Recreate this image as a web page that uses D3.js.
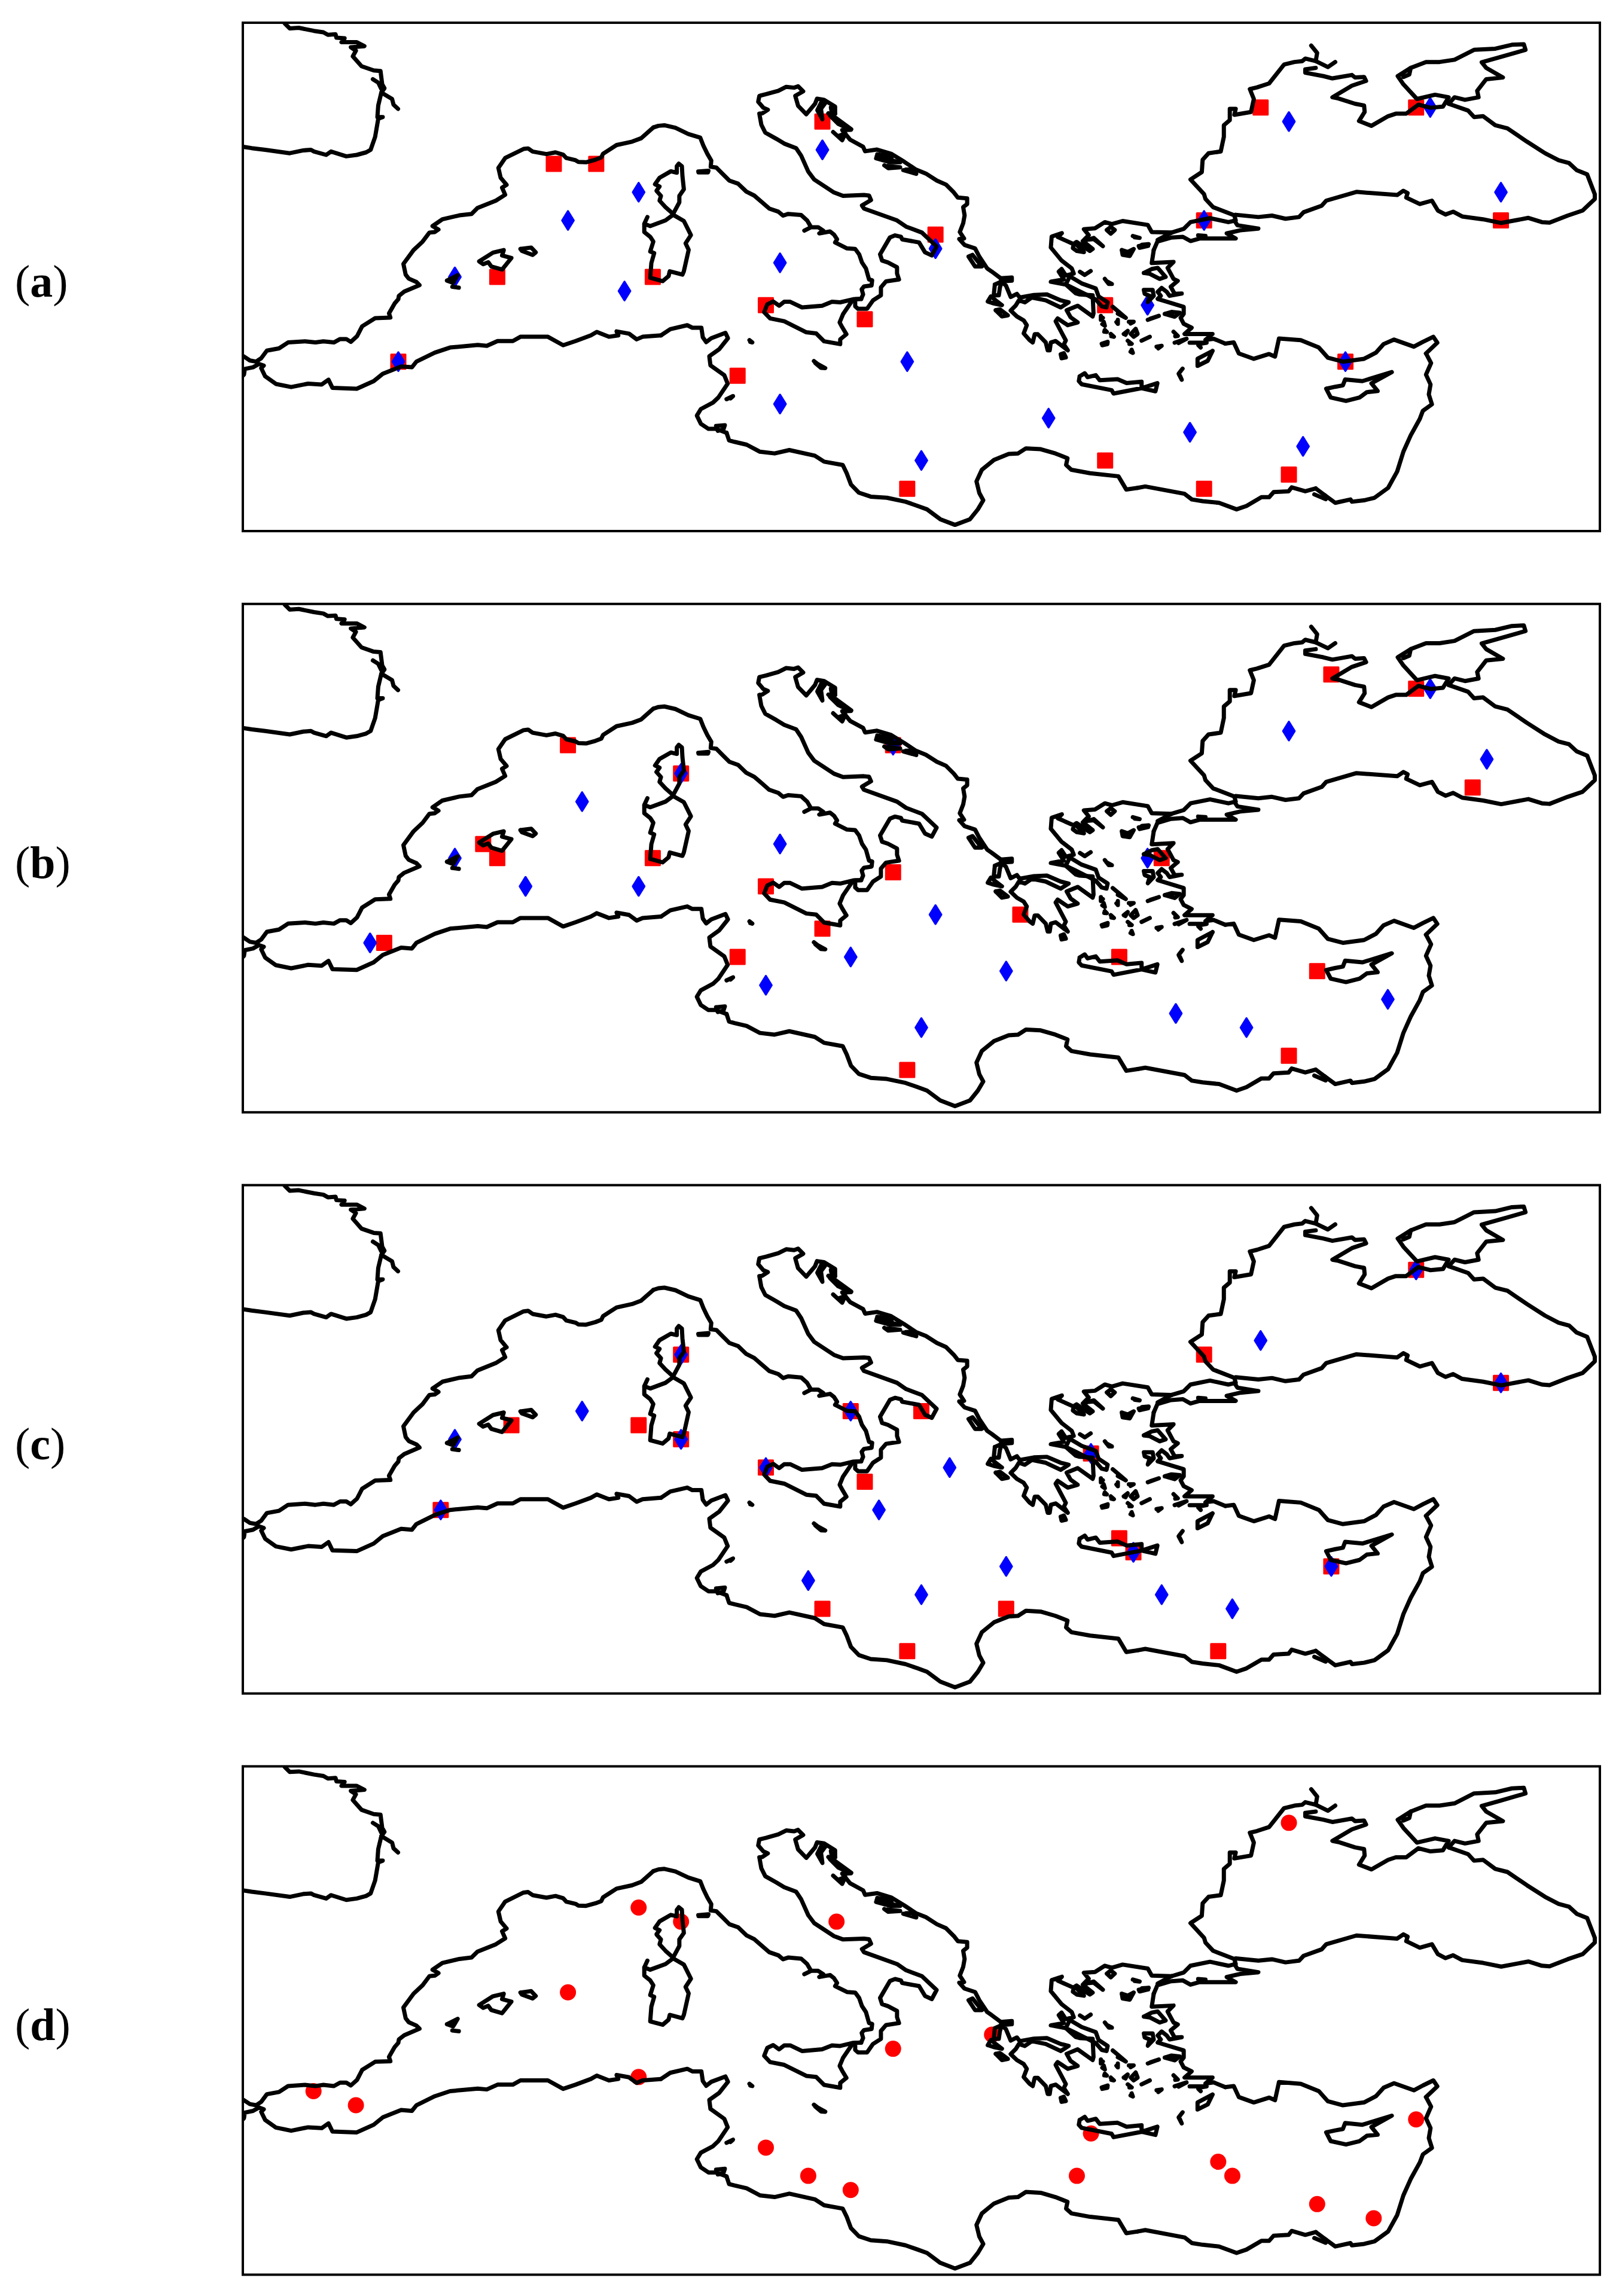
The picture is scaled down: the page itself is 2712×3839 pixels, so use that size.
<!DOCTYPE html>
<html>
<head>
<meta charset="utf-8">
<script src="https://cdn.jsdelivr.net/npm/d3@7"></script>
<style>
  html, body { margin: 0; background: #fff; }
  svg { display: block; }
  text { font-family: "Liberation Serif", serif; font-size: 76px; fill: #000; }
</style>
</head>
<body>
<svg id="chart"></svg>
<script>
// coast lines, [lon, lat]
var biscayNorth = [[-4.6,48.1],[-4.51,47.97],[-4.34,47.80],[-4.02,47.82],[-3.48,47.71],[-3.15,47.66],[-2.99,47.57],[-2.72,47.59],[-2.69,47.47],[-2.40,47.45],[-2.51,47.31],[-1.97,47.31],[-1.70,47.17],[-2.18,47.13],[-2.00,47.01],[-2.11,46.81],[-1.80,46.46],[-1.37,46.31],[-1.13,46.29],[-1.07,45.82],[-0.99,45.68],[-1.10,45.53],[-0.72,45.30],[-0.67,45.10],[-0.51,44.95]];
var girondeSpur = [[-1.40,46.00],[-1.21,45.88],[-1.10,45.65]];
var biscaySouth = [[-1.10,45.53],[-1.21,45.07],[-1.24,44.66],[-1.05,44.66],[-1.21,44.60],[-1.32,43.96],[-1.48,43.50],[-1.64,43.41],[-1.97,43.32],[-2.34,43.27],[-2.88,43.44],[-3.05,43.32],[-3.48,43.44],[-3.59,43.50],[-3.86,43.48],[-4.34,43.38],[-5.21,43.50],[-5.69,43.56],[-6.2,43.64]];
var spainFrance = [[-6.2,36.3],[-5.96,36.18],[-5.75,36.04],[-5.53,36.00],[-5.35,36.12],[-5.15,36.39],[-4.72,36.47],[-4.40,36.68],[-3.80,36.72],[-3.43,36.68],[-3.15,36.72],[-2.78,36.68],[-2.56,36.80],[-2.34,36.80],[-2.18,36.70],[-1.96,36.90],[-1.78,37.25],[-1.32,37.54],[-0.78,37.56],[-0.83,37.71],[-0.63,38.06],[-0.50,38.21],[-0.48,38.33],[-0.29,38.48],[0.25,38.71],[0.14,38.82],[-0.13,38.94],[-0.24,39.08],[-0.32,39.46],[0.04,39.95],[0.36,40.25],[0.60,40.57],[0.79,40.59],[0.92,40.68],[0.71,40.80],[1.06,41.04],[1.66,41.18],[2.09,41.23],[2.30,41.44],[2.95,41.70],[3.28,41.91],[3.17,42.16],[3.33,42.26],[3.12,42.51],[3.04,42.86],[3.28,43.21],[3.93,43.53],[4.09,43.55],[4.25,43.44],[4.74,43.35],[5.06,43.41],[5.33,43.33],[5.44,43.21],[5.77,43.13],[5.87,43.07],[6.14,43.06],[6.47,43.15],[6.68,43.23],[6.74,43.36],[7.22,43.67],[7.77,43.79],[8.09,43.91],[8.52,44.29]];
var italyWest = [[8.52,44.29],[8.70,44.35],[8.91,44.37],[9.30,44.28],[9.76,44.06],[10.18,43.93],[10.29,43.65],[10.43,43.36],[10.57,43.12],[10.55,42.90],[10.75,42.87],[10.96,42.66],[11.21,42.41],[11.52,42.30],[11.81,42.02],[12.09,41.88],[12.62,41.42],[12.94,41.31],[13.11,41.17],[13.29,41.23],[13.75,41.19],[13.96,41.00],[14.10,40.76],[13.86,40.64],[14.10,40.76],[14.35,40.76],[14.53,40.64],[14.39,40.54],[14.77,40.61],[14.91,40.50],[15.02,40.33],[14.95,40.22],[15.37,40.01],[15.66,39.99],[15.80,39.80],[15.90,39.51],[16.04,39.30],[16.15,38.91],[16.26,38.88],[16.24,38.70],[15.97,38.66],[15.89,38.56],[15.94,38.38],[15.87,38.22]];
var italyEast = [[15.87,38.22],[15.66,38.21],[15.66,37.96],[15.76,37.87],[16.08,37.87],[16.29,38.17],[16.57,38.35],[16.57,38.63],[16.75,38.84],[17.21,38.91],[17.14,39.12],[17.14,39.34],[16.82,39.51],[16.61,39.58],[16.54,39.80],[16.89,40.40],[17.07,40.47],[17.28,40.42],[17.32,40.33],[17.92,40.22],[18.13,39.87],[18.37,39.76],[18.54,40.08],[18.02,40.57],[17.46,40.78],[17.14,41.00],[15.97,41.42],[15.90,41.53],[16.22,41.72],[16.15,41.88],[15.97,41.90],[15.23,41.87],[14.91,41.99],[14.21,42.45],[14.00,42.73],[13.75,43.29],[13.57,43.56],[13.15,43.72],[12.87,43.89],[12.48,44.11],[12.34,44.39],[12.27,44.78],[12.37,44.79],[12.57,44.92],[12.41,44.99],[12.23,45.20],[12.27,45.41],[12.51,45.47],[12.94,45.59],[13.22,45.73],[13.50,45.70],[13.64,45.75],[13.82,45.57],[13.54,45.41],[13.64,45.06],[13.93,44.76],[14.24,45.13],[14.31,45.31],[14.56,45.27],[14.95,45.03],[14.95,44.78]];
var adriaticEast = [[14.95,44.78],[14.77,44.71],[15.06,44.42],[15.51,44.21],[15.20,44.20],[15.48,43.86],[15.94,43.61],[16.01,43.45],[16.43,43.51],[16.93,43.36],[17.39,43.08],[17.81,42.80],[18.16,42.66],[18.55,42.41],[18.87,42.27],[19.15,41.99],[19.29,41.81],[19.62,41.78],[19.62,41.58],[19.48,41.47],[19.53,41.18],[19.48,40.90],[19.36,40.59],[19.51,40.36],[19.34,40.34],[19.53,40.13],[19.90,40.01],[20.05,39.72],[20.33,39.30],[20.49,39.19],[20.81,38.95]];
var greece = [[20.81,38.95],[21.20,38.98],[21.20,38.87],[20.81,38.84],[20.99,38.70],[21.16,38.29],[21.38,38.40],[21.48,38.27],[21.98,38.36],[22.44,38.38],[22.93,38.17],[23.21,38.10],[22.93,37.92],[22.40,38.17],[21.91,38.27],[21.66,38.10],[21.45,38.17],[21.34,37.99],[21.16,37.81],[21.38,37.60],[21.62,37.46],[21.73,37.29],[21.62,37.00],[21.83,36.76],[21.94,36.68],[22.01,36.97],[22.12,36.97],[22.40,36.68],[22.47,36.40],[22.54,36.40],[22.58,36.68],[22.75,36.73],[23.18,36.40],[23.04,36.61],[23.11,36.75],[22.75,37.43],[22.82,37.53],[23.18,37.29],[23.53,37.39],[23.28,37.57],[23.14,37.82],[23.53,37.98],[24.06,37.60],[24.09,37.71],[24.06,38.35],[23.60,38.38],[23.46,38.42],[23.11,38.73],[22.58,38.83],[23.04,38.91],[22.86,39.19],[22.96,39.28],[23.11,39.05],[23.39,39.12],[23.32,39.30],[22.96,39.58],[22.58,40.04],[22.61,40.43],[22.97,40.55],[22.83,40.41],[23.39,40.16],[23.36,40.02],[23.50,39.92],[23.75,39.88],[23.43,40.20],[23.49,40.24],[23.96,39.92],[24.06,39.99],[23.71,40.27],[24.10,40.38],[24.42,40.09],[24.10,40.34],[23.75,40.31],[23.92,40.48],[23.75,40.69],[24.14,40.72],[24.49,40.94],[24.74,40.87],[25.12,40.98],[26.01,40.84],[26.15,40.59],[26.85,40.57]];
var gallipoli = [[26.85,40.57],[26.36,40.31]];
var thrace = [[26.85,40.57],[27.28,40.70],[27.52,40.94],[28.21,41.08],[28.86,40.94],[29.12,41.00],[29.07,41.18]];
var blackSeaWest = [[29.07,41.18],[28.32,41.47],[28.05,41.76],[28.00,41.93],[27.52,42.45],[27.92,42.71],[27.95,43.15],[28.16,43.38],[28.59,43.44],[28.70,43.96],[28.70,44.37],[28.91,44.55],[28.91,44.95],[29.12,44.95],[29.07,44.74],[29.66,44.84],[29.76,45.30],[29.62,45.65],[29.87,45.71],[30.30,45.85],[30.83,46.52],[31.20,46.61],[31.47,46.64],[31.58,46.73],[31.95,46.64],[32.00,46.93],[31.79,47.19]];
var dnieperSpur = [[31.95,46.64],[32.38,46.43],[32.64,46.61]];
var crimea = [[31.95,46.40],[31.58,46.35],[31.58,46.23],[32.22,46.11],[32.54,46.03],[33.23,46.15],[33.34,46.06],[33.66,46.08],[33.73,45.94],[33.23,45.77],[32.54,45.36],[32.75,45.32],[33.34,45.13],[33.66,45.07],[33.68,44.84],[33.48,44.52],[33.92,44.35],[34.51,44.69],[34.78,44.78],[35.15,44.78],[35.58,45.10],[36.01,44.99],[36.45,45.03],[36.65,45.36],[36.17,45.45],[35.53,45.30],[35.05,45.82],[34.85,46.11],[35.31,46.40],[35.26,46.17],[35.05,46.08]];
var azov = [[35.31,46.40],[35.85,46.61],[36.33,46.61],[36.86,46.69],[37.55,47.04],[38.30,47.08],[38.89,47.22],[39.31,47.24],[39.37,47.04],[38.46,46.78],[37.82,46.60],[37.98,46.40],[38.57,46.06],[37.98,46.00],[37.66,45.59],[37.71,45.36],[37.23,45.27],[36.86,45.36],[36.65,45.13]];
var blackSeaEast = [[36.65,45.13],[37.34,44.89],[37.55,44.66],[37.87,44.69],[38.30,44.37],[38.73,44.26],[39.42,43.79],[40.06,43.38],[40.54,43.13],[40.91,43.03],[41.18,42.78],[41.55,42.63],[41.82,41.93],[41.82,41.76],[41.39,41.35],[40.86,41.17],[40.22,40.92],[39.95,40.94],[39.47,41.09],[38.51,40.91],[37.87,41.04],[37.13,41.14],[36.81,41.31],[36.54,41.21],[36.27,41.35],[36.06,41.70],[35.63,41.58],[35.15,41.81],[35.20,41.97],[35.05,42.05],[34.83,41.90],[33.39,42.01],[32.32,41.70],[32.16,41.52],[31.52,41.29],[31.36,41.12],[30.88,41.06],[30.40,41.17],[29.92,41.12],[29.12,41.20]];
var marmaraSouth = [[29.07,41.00],[29.18,40.83],[29.92,40.71],[29.28,40.65],[28.80,40.54],[29.12,40.36],[27.84,40.36],[27.52,40.27],[27.25,40.42],[26.83,40.39],[26.35,40.25],[26.22,39.95]];
var turkeyWest = [[26.22,39.95],[26.15,39.49],[26.92,39.53],[26.71,39.32],[26.92,38.93],[27.07,38.86],[26.82,38.65],[26.96,38.40],[27.21,38.41],[26.78,38.33],[26.68,38.47],[26.50,38.61],[26.36,38.47],[26.47,38.33],[26.36,38.22],[27.28,37.94],[27.28,37.69],[27.17,37.55],[27.28,37.34],[27.56,37.20],[27.31,36.98],[28.30,36.98],[28.05,36.77],[28.34,36.81],[28.75,36.64]];
var turkeySouth = [[28.75,36.64],[29.05,36.68],[29.23,36.29],[29.76,36.10],[30.30,36.27],[30.51,36.18],[30.65,36.82],[31.42,36.76],[32.06,36.50],[32.38,36.14],[32.91,36.00],[33.66,36.10],[34.08,36.32],[34.35,36.62],[34.72,36.78],[35.42,36.53],[35.74,36.70],[36.11,36.88],[36.25,36.67],[35.85,36.29]];
var levant = [[35.85,36.29],[36.03,35.95],[35.85,35.54],[36.01,35.19],[35.95,34.84],[36.06,34.49],[35.74,34.26],[35.63,33.97],[35.31,33.39],[35.05,32.81],[34.83,32.11],[34.51,31.53],[34.03,31.18],[33.66,31.09],[33.23,31.04],[33.18,31.12],[32.64,31.00],[32.27,31.27],[31.95,31.51]];
var deltaSpur = [[31.90,31.30],[32.30,31.13],[32.35,31.20],[32.27,31.27]];
var egypt = [[31.95,31.51],[31.58,31.41],[31.10,31.55],[30.99,31.41],[30.46,31.38],[30.30,31.20],[30.03,31.20],[29.50,30.89],[29.15,30.77],[28.53,31.00],[27.95,31.06],[27.57,31.12],[27.31,31.32],[25.92,31.58],[25.65,31.53]];
var libya = [[25.65,31.53],[25.25,31.47],[24.97,31.94],[23.97,32.05],[23.31,32.17],[23.12,32.34],[23.17,32.58],[22.74,32.75],[22.22,32.90],[21.70,32.93],[21.42,32.75],[21.09,32.73],[20.57,32.52],[20.14,32.17],[19.95,31.76],[20.05,31.35],[20.19,31.09],[20.00,30.77],[19.72,30.42],[19.19,30.22],[18.67,30.42],[18.20,30.77],[17.87,30.89],[17.44,31.04],[16.78,31.18],[16.21,31.22],[15.79,31.36],[15.51,31.65],[15.36,32.05],[15.22,32.34],[14.56,32.46],[14.23,32.67],[13.33,32.87],[12.81,32.75],[12.29,32.81],[11.82,33.06],[11.39,33.16],[11.20,33.21],[11.11,33.48]];
var tunisia = [[11.11,33.48],[10.74,33.62],[10.47,33.62],[10.20,33.80],[10.06,34.09],[10.20,34.32],[10.63,34.55],[10.82,34.73],[11.15,35.22],[11.03,35.52],[10.54,35.87],[10.50,36.19],[10.85,36.44],[11.16,36.83],[11.07,37.02],[10.57,36.83],[10.39,36.69],[10.27,36.86],[10.22,37.20],[9.90,37.20],[9.72,37.29],[9.12,37.15],[8.79,36.93]];
var algeria = [[8.79,36.93],[8.14,36.88],[7.93,36.79],[7.66,36.99],[7.22,37.07],[7.28,36.93],[6.95,36.88],[6.52,37.05],[6.31,36.93],[5.77,36.73],[5.33,36.58],[4.79,36.88],[3.82,36.88],[3.55,36.73],[3.01,36.73],[2.63,36.56],[2.31,36.59],[1.33,36.50],[0.79,36.32],[0.14,36.00],[-0.02,35.80],[-0.40,35.83],[-1.05,35.57],[-1.37,35.31],[-1.97,35.04],[-2.83,35.07],[-2.97,35.36],[-3.21,35.19],[-3.69,35.22],[-4.29,35.10],[-4.83,35.21],[-5.21,35.48],[-5.35,35.77],[-5.26,35.86],[-5.43,35.92],[-5.64,35.80],[-5.93,35.74],[-5.96,35.54],[-6.2,35.3]];

// islands
var sicily = [[15.59,38.21],[15.13,38.10],[14.84,38.12],[14.49,37.98],[13.78,37.92],[13.36,38.12],[13.15,38.12],[12.97,37.98],[12.76,38.13],[12.55,38.03],[12.44,37.75],[12.65,37.53],[13.15,37.43],[13.93,37.04],[14.28,37.00],[14.56,36.72],[15.13,36.62],[15.13,36.79],[15.35,36.97],[15.20,37.22],[15.11,37.39],[15.23,37.68],[15.59,38.21],[15.87,38.22]];
var sardinia = [[8.31,41.12],[8.20,40.88],[8.41,40.80],[8.95,41.00],[9.22,41.20],[9.60,40.98],[9.85,40.48],[9.66,40.19],[9.77,39.96],[9.60,39.20],[9.55,39.08],[9.10,39.20],[9.06,39.03],[8.85,38.85],[8.41,38.97],[8.45,39.49],[8.55,39.84],[8.41,39.90],[8.52,40.25],[8.41,40.42],[8.20,40.59],[8.20,40.88]];
var corsica = [[9.22,41.23],[9.44,41.64],[9.44,41.87],[9.60,42.10],[9.55,42.57],[9.53,42.92],[9.42,43.01],[9.35,42.92],[9.35,42.69],[9.14,42.74],[8.74,42.51],[8.58,42.28],[8.74,42.20],[8.63,42.05],[8.79,41.87],[8.74,41.70],[8.95,41.47],[9.22,41.23]];
var mallorca = [[2.36,39.55],[2.85,39.86],[3.23,39.95],[3.17,39.76],[3.50,39.67],[3.17,39.26],[2.79,39.37],[2.68,39.52],[2.50,39.45],[2.36,39.55]];
var menorca = [[3.82,39.99],[4.20,40.04],[4.36,39.87],[4.25,39.78],[3.87,39.92],[3.82,39.99]];
var ibiza = [[1.22,38.87],[1.60,39.06],[1.44,38.79],[1.22,38.87]];
var formentera = [[1.41,38.65],[1.64,38.62]];
var elba = [[10.11,42.73],[10.47,42.76],[10.45,42.70],[10.12,42.70]];
var pantelleria = [[11.92,36.76],[12.02,36.68],[11.95,36.70]];
var malta = [[14.2,36.02],[14.33,35.92],[14.60,35.77],[14.45,35.78],[14.25,35.95]];
var jerba = [[10.74,33.72],[11.05,33.75],[11.00,33.60],[10.80,33.55],[10.74,33.72]];
var kerkennah = [[11.11,34.67],[11.34,34.78],[11.25,34.70]];
var corfu = [[19.67,39.72],[19.81,39.78],[20.14,39.37],[19.90,39.37],[19.67,39.72]];
var lefkada = [[20.60,38.73],[20.56,38.35],[20.74,38.35],[20.78,38.63],[20.85,38.84],[20.60,38.73]];
var ithaca = [[20.35,38.13],[20.46,38.31],[20.63,38.17],[20.85,38.00],[20.56,38.06],[20.35,38.13]];
var kefalonia = [[20.63,37.82],[20.85,37.60],[21.06,37.64],[20.78,37.85],[20.63,37.82]];
var kythira = [[22.93,36.26],[22.96,36.12],[23.11,36.15],[23.04,36.30],[22.93,36.26]];
var euboea = [[23.25,39.02],[23.67,38.77],[24.17,38.59],[24.27,38.31],[24.59,38.10],[24.55,37.92],[24.38,37.96],[24.17,38.20],[23.88,38.35],[23.46,38.56],[23.11,38.73],[23.25,39.02]];
var crete = [[23.60,35.48],[23.78,35.59],[23.88,35.45],[24.17,35.52],[24.31,35.34],[24.94,35.38],[25.26,35.24],[25.79,35.29],[25.79,35.06],[26.35,35.24],[26.28,34.95],[25.79,35.06],[24.80,34.87],[24.73,34.99],[23.67,35.20],[23.57,35.31],[23.60,35.48]];
var cyprus = [[32.32,35.04],[32.48,34.73],[33.02,34.61],[33.50,34.73],[33.76,34.92],[34.14,34.96],[33.92,35.23],[34.64,35.63],[33.60,35.31],[32.99,35.37],[32.91,35.16],[32.64,35.11],[32.32,35.04]];
var rhodes = [[28.30,36.38],[27.77,36.10],[27.77,35.85],[28.13,36.03],[28.30,36.38]];
var karpathos = [[27.24,35.75],[27.10,35.57],[27.21,35.36],[27.15,35.50]];
var thasos = [[24.56,40.66],[24.70,40.77],[24.84,40.66],[24.70,40.53],[24.56,40.66]];
var samothrace = [[25.48,40.45],[25.72,40.38],[25.55,40.40]];
var imbros = [[25.69,40.09],[26.04,40.16],[25.80,40.14],[25.72,40.03],[26.02,40.10]];
var lemnos = [[25.09,39.95],[25.12,39.78],[25.37,39.74],[25.51,39.99],[25.30,39.88],[25.09,39.95]];
var sporades = [[23.61,39.18],[23.78,39.07],[23.99,39.21]];
var skyros = [[24.49,38.93],[24.63,38.75],[24.74,38.75],[24.55,38.85]];
var lesbos = [[25.87,39.14],[26.15,39.28],[26.36,39.32],[26.64,39.00],[26.43,38.93],[26.08,39.11],[25.87,39.14]];
var chios = [[25.87,38.54],[26.18,38.54],[26.22,38.33],[26.01,38.11],[26.08,38.33],[25.90,38.40],[25.87,38.54]];
var ikaria = [[26.01,37.48],[26.40,37.62],[26.10,37.52]];
var samos = [[26.61,37.69],[26.85,37.76],[27.14,37.73],[26.96,37.59],[26.61,37.69]];
var andros = [[24.77,37.94],[25.02,37.73],[25.23,37.55],[24.95,37.70]];
var mykonos = [[25.34,37.41],[25.51,37.41],[25.40,37.35]];
var kea = [[24.35,37.62],[24.35,37.48],[24.42,37.55]];
var kythnos = [[24.45,37.41],[24.49,37.27],[24.40,37.33]];
var serifos = [[24.49,37.12],[24.56,37.05],[24.47,37.06]];
var sifnos = [[24.70,36.98],[24.81,36.88],[24.72,36.90]];
var milos = [[24.38,36.63],[24.59,36.70],[24.58,36.62],[24.40,36.58]];
var syros = [[24.95,37.48],[24.95,37.34],[24.90,37.40]];
var paros = [[25.16,36.98],[25.30,37.09],[25.22,36.95]];
var naxos = [[25.41,36.98],[25.58,37.16],[25.65,36.98],[25.51,36.88],[25.41,36.98]];
var ios = [[25.30,36.74],[25.44,36.63],[25.36,36.63]];
var santorini = [[25.44,36.42],[25.48,36.31],[25.40,36.35]];
var amorgos = [[25.79,36.74],[26.08,36.88]];
var astypalaia = [[26.32,36.53],[26.50,36.56],[26.38,36.47]];
var kalymnos = [[26.92,37.06],[27.07,36.91],[26.98,36.90]];
var kos = [[26.96,36.67],[27.38,36.81],[27.10,36.66]];
var knidos = [[27.49,36.67],[28.09,36.67],[27.80,36.62]];
var symi = [[27.80,36.58],[27.88,36.50]];
var marmaraIsland = [[27.79,40.47],[28.05,40.45]];
var cres = [[14.46,45.18],[14.32,44.90],[14.50,44.58],[14.45,44.95],[14.62,45.18],[14.50,45.05]];
var krk = [[14.71,44.79],[14.92,44.58],[15.52,44.23],[14.85,44.72],[14.80,45.00]];
var pag = [[14.88,44.13],[15.20,43.84],[15.31,44.08],[15.05,43.98],[15.20,43.92]];
var brac = [[16.44,43.34],[16.93,43.27],[16.95,43.18],[16.42,43.27]];
var hvar = [[16.40,43.20],[16.90,43.06],[17.25,43.06],[16.85,43.14]];
var korcula = [[16.69,42.95],[16.83,42.85],[17.25,42.88],[16.80,42.93]];
var peljesac = [[17.36,42.78],[17.82,42.65],[17.74,42.81],[17.45,42.80]];

var coastlines = [biscayNorth, girondeSpur, biscaySouth, spainFrance, italyWest, italyEast, adriaticEast, greece, gallipoli, thrace, blackSeaWest, dnieperSpur, crimea, azov, blackSeaEast, marmaraSouth, turkeyWest, turkeySouth, levant, deltaSpur, egypt, libya, tunisia, algeria,
  sicily, sardinia, corsica, mallorca, menorca, ibiza, formentera, elba, pantelleria, malta, jerba, kerkennah, corfu, lefkada, ithaca, kefalonia, kythira, euboea, crete, cyprus, rhodes, karpathos, thasos, samothrace, imbros, lemnos, sporades, skyros, lesbos, chios, ikaria, samos, andros, mykonos, kea, kythnos, serifos, sifnos, milos, syros, paros, naxos, ios, santorini, amorgos, astypalaia, kalymnos, kos, knidos, symi, marmaraIsland, cres, krk, pag, brac, hvar, korcula, peljesac];

// stations [lon, lat]
var squaresA = [[5,43],[6.5,43],[3,39],[8.5,39],[-0.5,36],[12.5,38],[14.5,44.5],[16,37.5],[11.5,35.5],[18.5,40.5],[24.5,38],[28,41],[33,36],[30,45],[35.5,45],[38.5,41],[17.5,31.5],[24.5,32.5],[28,31.5],[31,32]];
var diamondsA = [[8,42],[5.5,41],[1.5,39],[7.5,38.5],[-0.5,36],[13,39.5],[14.5,43.5],[18.5,40],[17.5,36],[13,34.5],[18,32.5],[22.5,34],[26,38],[27.5,33.5],[31.5,33],[28,41],[33,36],[31,44.5],[36,45],[38.5,42]];
var squaresB = [[5.5,43],[9.5,42],[17,43],[2.5,39.5],[3,39],[8.5,39],[12.5,38],[14.5,36.5],[17,38.5],[21.5,37],[-1,36],[11.5,35.5],[25,35.5],[32,35],[17.5,31.5],[31,32],[26.5,39],[32.5,45.5],[35.5,45],[37.5,41.5]];
var diamondsB = [[9.5,42],[6,41],[1.5,39],[4,38],[8,38],[13,39.5],[17,43],[18.5,37],[15.5,35.5],[21,35],[12.5,34.5],[18,33],[27,33.5],[29.5,33],[34.5,34],[-1.5,36],[26,39],[31,43.5],[36,45],[38,42.5]];
var squaresC = [[9.5,42],[9.5,39],[8,39.5],[3.5,39.5],[1,36.5],[12.5,38],[15.5,40],[18,40],[16,37.5],[24,38.5],[28,42],[35.5,45],[38.5,41],[25,35.5],[25.5,35],[32.5,34.5],[14.5,33],[21,33],[17.5,31.5],[28.5,31.5]];
var diamondsC = [[9.5,42],[9.5,39],[6,40],[1.5,39],[1,36.5],[12.5,38],[15.5,40],[19,38],[16.5,36.5],[24,38.5],[14,34],[18,33.5],[21,34.5],[25.5,35],[26.5,33.5],[29,33],[32.5,34.5],[30,42.5],[35.5,45],[38.5,41]];
var circlesD = [[8,43],[9.5,42.5],[15,42.5],[5.5,40],[31,46],[17,38],[20.5,38.5],[-3.5,36.5],[-2,36],[8,37],[24,35],[12.5,34.5],[14,33.5],[15.5,33],[23.5,33.5],[28.5,34],[29,33.5],[35.5,35.5],[32,32.5],[34,32]];

var panelLabels = ["a", "b", "c", "d"];
var panelSquares = [squaresA, squaresB, squaresC, []];
var panelDiamonds = [diamondsA, diamondsB, diamondsC, []];
var panelCircles = [[], [], [], circlesD];

var width = 2712, height = 3839;
var frameLeft = 406, frameRight = 2675, frameTop = 38, frameHeight = 850, panelStep = 971.8;

var svg = d3.select("#chart").attr("width", width).attr("height", height);

var x = d3.scaleLinear().domain([-6, 42]).range([frameLeft, frameRight]);
var y = d3.scaleLinear().domain([30, 48]).range([frameHeight, 0]);

var line = d3.line().x(d => x(d[0])).y(d => y(d[1]));

// matplotlib "d" marker, thin diamond
var thinDiamond = {
  draw: function (context, size) {
    var h = Math.sqrt(size) / 2;
    var w = h * 0.62;
    context.moveTo(0, -h);
    context.lineTo(w, 0);
    context.lineTo(0, h);
    context.lineTo(-w, 0);
    context.closePath();
  }
};

svg.append("defs").append("clipPath").attr("id", "frame-clip")
  .append("rect")
  .attr("x", frameLeft).attr("y", 0)
  .attr("width", frameRight - frameLeft).attr("height", frameHeight);

panelLabels.forEach(function (label, i) {
  var top = frameTop + i * panelStep;
  var g = svg.append("g").attr("transform", "translate(0," + top + ")");
  var map = g.append("g").attr("clip-path", "url(#frame-clip)");

  map.selectAll(".square").data(panelSquares[i]).enter().append("path")
    .attr("class", "square")
    .attr("d", d3.symbol().type(d3.symbolSquare).size(24 * 24))
    .attr("transform", d => "translate(" + x(d[0]) + "," + y(d[1]) + ")")
    .attr("fill", "#ff0000").attr("stroke", "#ff0000")
    .attr("stroke-width", 3).attr("stroke-linejoin", "round");

  map.selectAll(".diamond").data(panelDiamonds[i]).enter().append("path")
    .attr("class", "diamond")
    .attr("d", d3.symbol().type(thinDiamond).size(31 * 31))
    .attr("transform", d => "translate(" + x(d[0]) + "," + y(d[1]) + ")")
    .attr("fill", "#0000ff").attr("stroke", "#0000ff")
    .attr("stroke-width", 3.5).attr("stroke-linejoin", "round");

  map.selectAll(".circle").data(panelCircles[i]).enter().append("circle")
    .attr("class", "circle")
    .attr("cx", d => x(d[0])).attr("cy", d => y(d[1]))
    .attr("r", 13.5)
    .attr("fill", "#ff0000");

  map.selectAll(".coast").data(coastlines).enter().append("path")
    .attr("class", "coast")
    .attr("d", line)
    .attr("fill", "none").attr("stroke", "#000")
    .attr("stroke-width", 7).attr("stroke-linejoin", "round").attr("stroke-linecap", "round");

  g.append("rect")
    .attr("x", frameLeft).attr("y", 0)
    .attr("width", frameRight - frameLeft).attr("height", frameHeight)
    .attr("fill", "none").attr("stroke", "#000").attr("stroke-width", 4);

  var t = g.append("text").attr("x", 25).attr("y", frameHeight / 2 + 33);
  t.append("tspan").text("(");
  t.append("tspan").attr("font-weight", "bold").text(label);
  t.append("tspan").text(")");
});
</script>
</body>
</html>
